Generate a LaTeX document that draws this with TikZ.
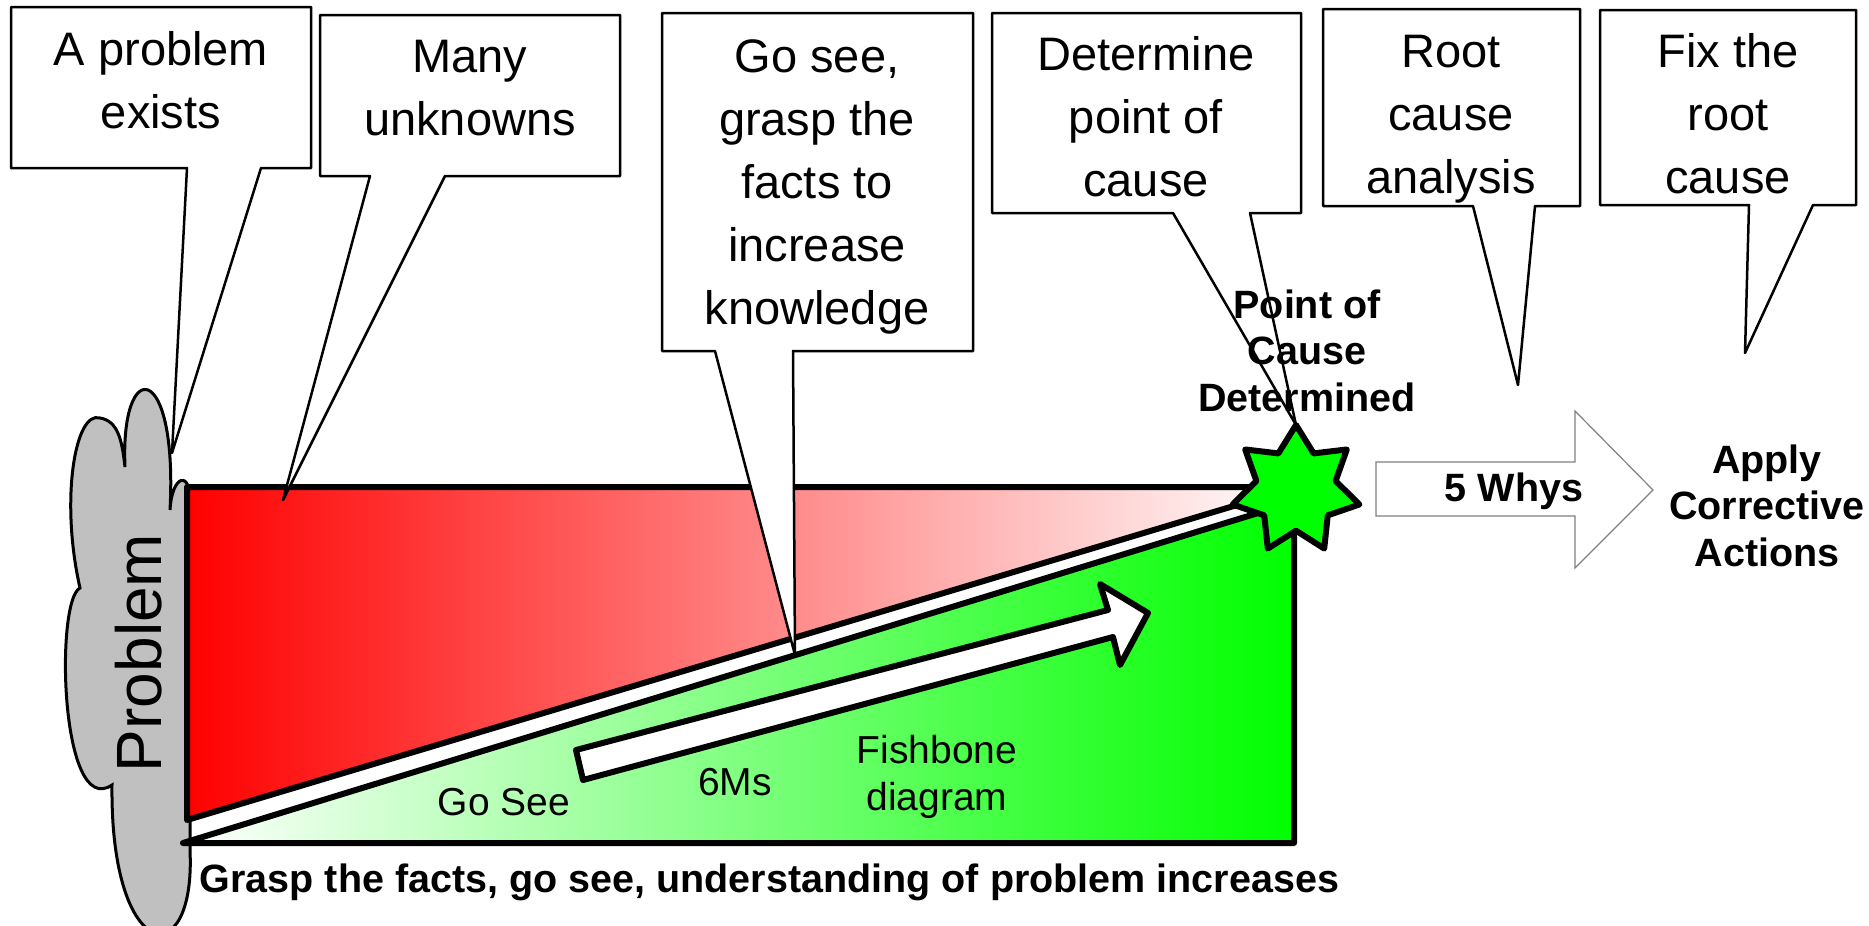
\documentclass[tikz,border=0pt]{standalone}
\usepackage{fontspec}
\setmainfont{Liberation Sans}
\usetikzlibrary{shapes.geometric}
\definecolor{lime0}{RGB}{0,255,0}
\definecolor{cloudgray}{RGB}{192,192,192}
\definecolor{arrgray}{RGB}{128,128,128}
\begin{document}
\begin{tikzpicture}[x=1pt,y=-1pt,
  callout/.style={draw=black, fill=white, line width=2.5pt, line join=round},
  ctext/.style={font=\fontsize{47}{63}\selectfont, align=center, inner sep=0pt, anchor=base},
  blabel/.style={font=\bfseries\fontsize{39.5}{46.5}\selectfont, align=center, inner sep=0pt, anchor=base},
  slabel/.style={font=\fontsize{39}{47}\selectfont, align=center, inner sep=0pt, anchor=base},
  heavy/.style={draw=black, line width=6pt, line join=round}]
\useasboundingbox (0,0) rectangle (1869,926);

% cloud
\filldraw[fill=cloudgray, draw=black, line width=3pt]
  (125,467) .. controls (120,355) and (178,360) .. (170,510)
  .. controls (172,475) and (190,470) .. (190,500)
  -- (190,850)
  .. controls (196,975) and (110,965) .. (112,785)
  .. controls (60,820) and (55,600) .. (80,588)
  .. controls (60,500) and (75,410) .. (100,418)
  .. controls (118,421) and (122,440) .. (125,467) -- cycle;
\node[font=\fontsize{64}{70}\selectfont, rotate=90, inner sep=0pt] (prob) at (139,653) {Problem};

% red and green wedges
\shadedraw[left color=red, right color=white, heavy] (187,487) -- (1297,487) -- (187,820) -- cycle;
\shadedraw[left color=white, right color=lime0, heavy] (183,843) -- (1294,502) -- (1294,843) -- cycle;

% inner white arrow
\filldraw[fill=white, heavy] (576,750) -- (1108,610) -- (1100,584) -- (1148,613) -- (1120,665) -- (1113,637) -- (583,780) -- cycle;

\node[slabel] (gosee) at (504,815) {Go See};
\node[slabel] (sixms) at (735,795) {6Ms};
\node[slabel] (fish) at (937,810) {Fishbone\\diagram};

% star
\node[star, star points=7, star point ratio=1.6, minimum size=130pt, inner sep=0pt, fill=lime0, heavy] (star) at (1296,490) {};

% callouts (text nodes are anchored at the baseline of their last line)
\filldraw[callout] (11,7) -- (311,7) -- (311,168) -- (261,168) -- (172,453) -- (187,168) -- (11,168) -- cycle;
\node[ctext] (t1) at (161,128) {A problem\\exists};
\filldraw[callout] (320,15) -- (620,15) -- (620,176) -- (445,176) -- (283,500) -- (370,176) -- (320,176) -- cycle;
\node[ctext] (t2) at (470,135) {Many\\unknowns};
\filldraw[callout] (662,13) -- (973,13) -- (973,351) -- (793,351) -- (795,655) -- (715,351) -- (662,351) -- cycle;
\node[ctext] (t3) at (817,324) {Go see,\\grasp the\\facts to\\increase\\knowledge};
\filldraw[callout] (992,13) -- (1301,13) -- (1301,213) -- (1250,213) -- (1296,425) -- (1173,213) -- (992,213) -- cycle;
\node[ctext] (t4) at (1146,196) {Determine\\point of\\cause};
\filldraw[callout] (1323,9) -- (1580,9) -- (1580,206) -- (1535,206) -- (1518,385) -- (1473,206) -- (1323,206) -- cycle;
\node[ctext] (t5) at (1451,193) {Root\\cause\\analysis};
\filldraw[callout] (1600,10) -- (1856,10) -- (1856,205) -- (1813,205) -- (1745,353) -- (1749,205) -- (1600,205) -- cycle;
\node[ctext] (t6) at (1728,193) {Fix the\\root\\cause};

% labels
\node[blabel] (poc) at (1307,411) {Point of\\Cause\\Determined};
\filldraw[fill=white, draw=arrgray, line width=1.2pt] (1376,462) -- (1575,462) -- (1575,411) -- (1653,490) -- (1575,568) -- (1575,516) -- (1376,516) -- cycle;
\node[blabel] (why) at (1514,501) {5 Whys};
\node[blabel] (apply) at (1767,566) {Apply\\Corrective\\Actions};
\node[blabel] (grasp) at (769.5,892) {Grasp the facts, go see, understanding of problem increases};
\end{tikzpicture}
\end{document}
